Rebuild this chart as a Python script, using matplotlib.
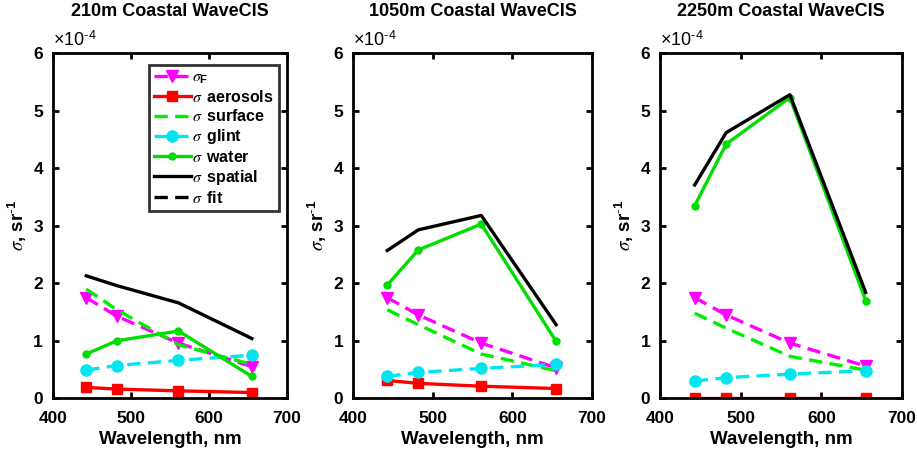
import matplotlib
matplotlib.use("Agg")
import matplotlib.pyplot as plt

plt.rcParams["font.family"] = ["Liberation Sans", "DejaVu Sans"]
plt.rcParams["font.weight"] = "bold"
plt.rcParams["mathtext.fontset"] = "custom"
plt.rcParams["mathtext.rm"] = "Liberation Sans:regular"
plt.rcParams["mathtext.it"] = "STIXGeneral:italic:regular"
plt.rcParams["mathtext.bf"] = "Liberation Sans:bold"
plt.rcParams["mathtext.sf"] = "Liberation Sans:bold"

wavelength = [443, 482, 561, 655]
titles = ["210m Coastal WaveCIS", "1050m Coastal WaveCIS", "2250m Coastal WaveCIS"]

# uncertainties in units of 1e-4 sr^-1
sigma_F = [
    [1.75, 1.43, 0.96, 0.55],
    [1.75, 1.45, 0.96, 0.53],
    [1.75, 1.45, 0.96, 0.56],
]
sigma_aerosols = [
    [0.19, 0.16, 0.13, 0.10],
    [0.31, 0.26, 0.21, 0.17],
    [0.0, 0.0, 0.0, 0.0],
]
sigma_surface = [
    [1.90, 1.54, 0.93, 0.59],
    [1.54, 1.28, 0.77, 0.48],
    [1.48, 1.22, 0.73, 0.49],
]
sigma_glint = [
    [0.49, 0.57, 0.66, 0.75],
    [0.38, 0.45, 0.52, 0.59],
    [0.30, 0.36, 0.42, 0.48],
]
sigma_water = [
    [0.77, 1.00, 1.17, 0.38],
    [1.97, 2.58, 3.03, 0.99],
    [3.35, 4.42, 5.23, 1.70],
]
sigma_spatial = [
    [2.13, 1.96, 1.66, 1.04],
    [2.57, 2.93, 3.18, 1.28],
    [3.71, 4.62, 5.28, 1.84],
]

fig = plt.figure(figsize=(9.17, 4.53), dpi=100)
W, H = 917, 453
lefts = [52.7, 353, 660]
rights = [287, 592, 902]
top, bottom = 53.3, 398.3

lw = 2.4
dash = (4, 2.2)
for i in range(3):
    ax = fig.add_axes([lefts[i] / W, 1 - bottom / H, (rights[i] - lefts[i]) / W, (bottom - top) / H])
    ax.plot(wavelength, sigma_F[i], color="#ff00ff", lw=lw, ls=(0, dash), marker="v",
            ms=9, label=r"$\sigma_{\mathbf{F}}$")
    ax.plot(wavelength, sigma_aerosols[i], color="#ff0000", lw=lw, marker="s", ms=7,
            label=r"$\sigma\,$ aerosols")
    ax.plot(wavelength, sigma_surface[i], color="#00ee00", lw=lw, ls=(0, dash),
            label=r"$\sigma\,$ surface")
    ax.plot(wavelength, sigma_glint[i], color="#00e5ee", lw=lw, ls=(0, dash), marker="o",
            ms=8, label=r"$\sigma\,$ glint")
    ax.plot(wavelength, sigma_water[i], color="#00dd00", lw=lw, marker="o", ms=5,
            label=r"$\sigma\,$ water")
    ax.plot(wavelength, sigma_spatial[i], color="black", lw=lw, label=r"$\sigma\,$ spatial")
    ax.plot([], [], color="black", lw=lw, ls=(0, dash), label=r"$\sigma\,$ fit")

    ax.set_xlim(400, 700)
    ax.set_ylim(0, 6)
    ax.set_xticks([400, 500, 600, 700])
    ax.set_yticks(range(7))
    ax.tick_params(direction="in", top=True, right=True, width=2, length=4,
                   labelsize=12.5)
    ax.tick_params(axis="x", pad=9)
    ax.tick_params(axis="y", pad=7)
    for lab in ax.get_xticklabels() + ax.get_yticklabels():
        lab.set_fontweight("bold")
    for s in ax.spines.values():
        s.set_linewidth(2)
    ax.set_title(titles[i], fontsize=13, fontweight="bold", pad=27)
    ax.set_xlabel("Wavelength, nm", fontsize=13.5, fontweight="bold", labelpad=4)
    ax.set_ylabel(r"$\sigma$, sr$^{\mathbf{\text{-}1}}$", fontsize=13.5,
                  fontweight="bold", labelpad=3)
    ax.text(0.0, 1.01, r"$\times\mathrm{10}^{\mathrm{\text{-}4}}$", transform=ax.transAxes,
            fontsize=13, fontweight="normal", ha="left", va="bottom")

    if i == 0:
        leg = ax.legend(loc="upper right", bbox_to_anchor=(0.985, 0.98), fontsize=11.5,
                        frameon=True, fancybox=False, edgecolor="black",
                        handlelength=2.3, handletextpad=0.1, borderpad=0.3,
                        labelspacing=0.2, borderaxespad=0.3)
        leg.get_frame().set_linewidth(2)
        for t in leg.get_texts():
            t.set_fontweight("bold")

fig.savefig("out.png", dpi=100)
